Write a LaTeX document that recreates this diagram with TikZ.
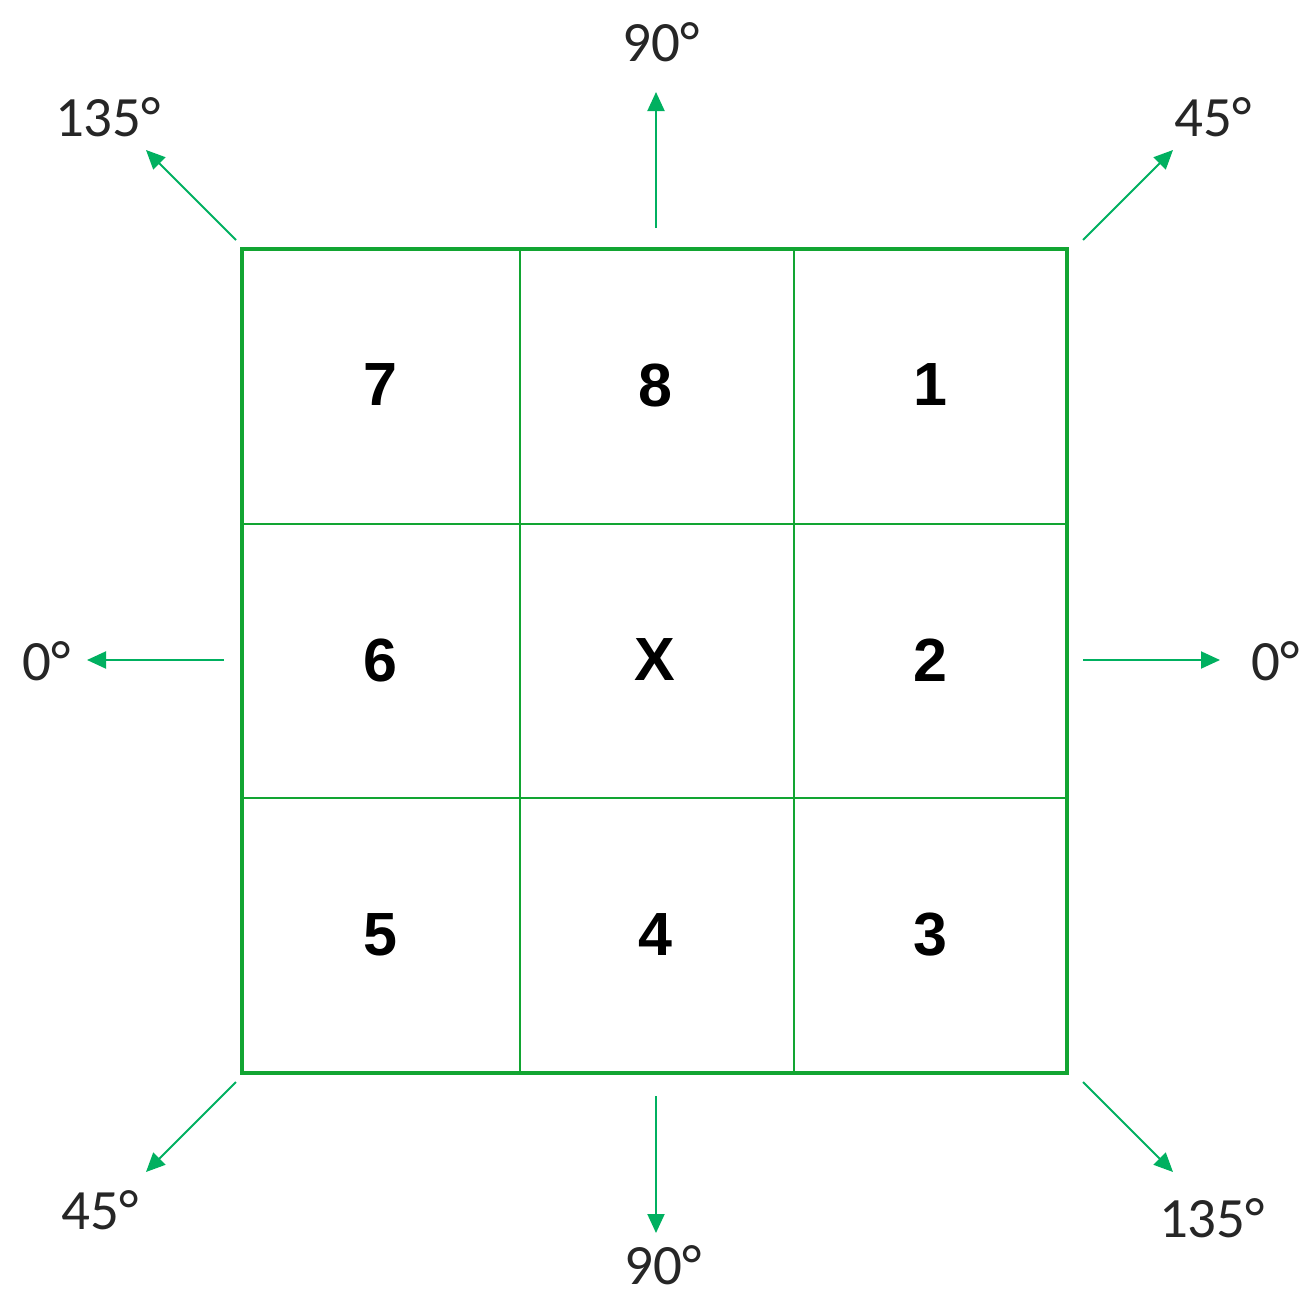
\documentclass[tikz,border=0pt]{standalone}
\usepackage{fontspec}
\setmainfont{Carlito}
\newfontfamily\cellfont{Liberation Sans}
\usetikzlibrary{arrows.meta}
\definecolor{gridgreen}{RGB}{18,165,50}
\definecolor{arrowgreen}{RGB}{0,176,96}
\tikzset{
  gridline/.style={draw=gridgreen, line width=2pt},
  outerline/.style={draw=gridgreen, line width=3.2pt},
  dirarrow/.style={draw=arrowgreen, line width=2pt, -{Triangle[length=19pt,width=17pt]}},
  anglabel/.style={inner sep=0pt, font=\fontsize{57}{62}\selectfont, text=black!85},
  celllabel/.style={inner sep=0pt, font=\cellfont\bfseries\fontsize{61}{66}\selectfont}
}
\begin{document}
\begin{tikzpicture}[x=1pt,y=-1pt]
\useasboundingbox (0,0) rectangle (1312,1306);
% grid
\draw[gridline] (520,249) -- (520,1073);
\draw[gridline] (794,249) -- (794,1073);
\draw[gridline] (242,524) -- (1067,524);
\draw[gridline] (242,798) -- (1067,798);
\draw[outerline] (242,249) rectangle (1067,1073);
% cell labels
\node[celllabel] (c7) at (380,385) {7};
\node[celllabel] (c8) at (655,385) {8};
\node[celllabel] (c1) at (930,385) {1};
\node[celllabel] (c6) at (380,660) {6};
\node[celllabel] (cx) at (655,660) {X};
\node[celllabel] (c2) at (930,660) {2};
\node[celllabel] (c5) at (380,935) {5};
\node[celllabel] (c4) at (655,935) {4};
\node[celllabel] (c3) at (930,935) {3};
% arrow endpoints
\coordinate (sT) at (656,228);  \coordinate (eT) at (656,92);
\coordinate (sTL) at (236,240); \coordinate (eTL) at (146,150);
\coordinate (sTR) at (1083,240);\coordinate (eTR) at (1173,150);
\coordinate (sL) at (224,660);  \coordinate (eL) at (87,660);
\coordinate (sR) at (1083,660); \coordinate (eR) at (1220,660);
\coordinate (sBL) at (236,1082);\coordinate (eBL) at (146,1172);
\coordinate (sB) at (656,1096); \coordinate (eB) at (656,1233);
\coordinate (sBR) at (1083,1082);\coordinate (eBR) at (1173,1172);
\draw[dirarrow] (sT) -- (eT);
\draw[dirarrow] (sTL) -- (eTL);
\draw[dirarrow] (sTR) -- (eTR);
\draw[dirarrow] (sL) -- (eL);
\draw[dirarrow] (sR) -- (eR);
\draw[dirarrow] (sBL) -- (eBL);
\draw[dirarrow] (sB) -- (eB);
\draw[dirarrow] (sBR) -- (eBR);
% angle labels
\node[anglabel] (lT) at (661,42) {90°};
\node[anglabel] (lTL) at (108,117) {135°};
\node[anglabel] (lTR) at (1213,117) {45°};
\node[anglabel] (lL) at (47,661) {0°};
\node[anglabel] (lR) at (1276,661) {0°};
\node[anglabel] (lBL) at (100,1210) {45°};
\node[anglabel] (lB) at (663,1265) {90°};
\node[anglabel] (lBR) at (1212,1218) {135°};
\end{tikzpicture}
\end{document}
